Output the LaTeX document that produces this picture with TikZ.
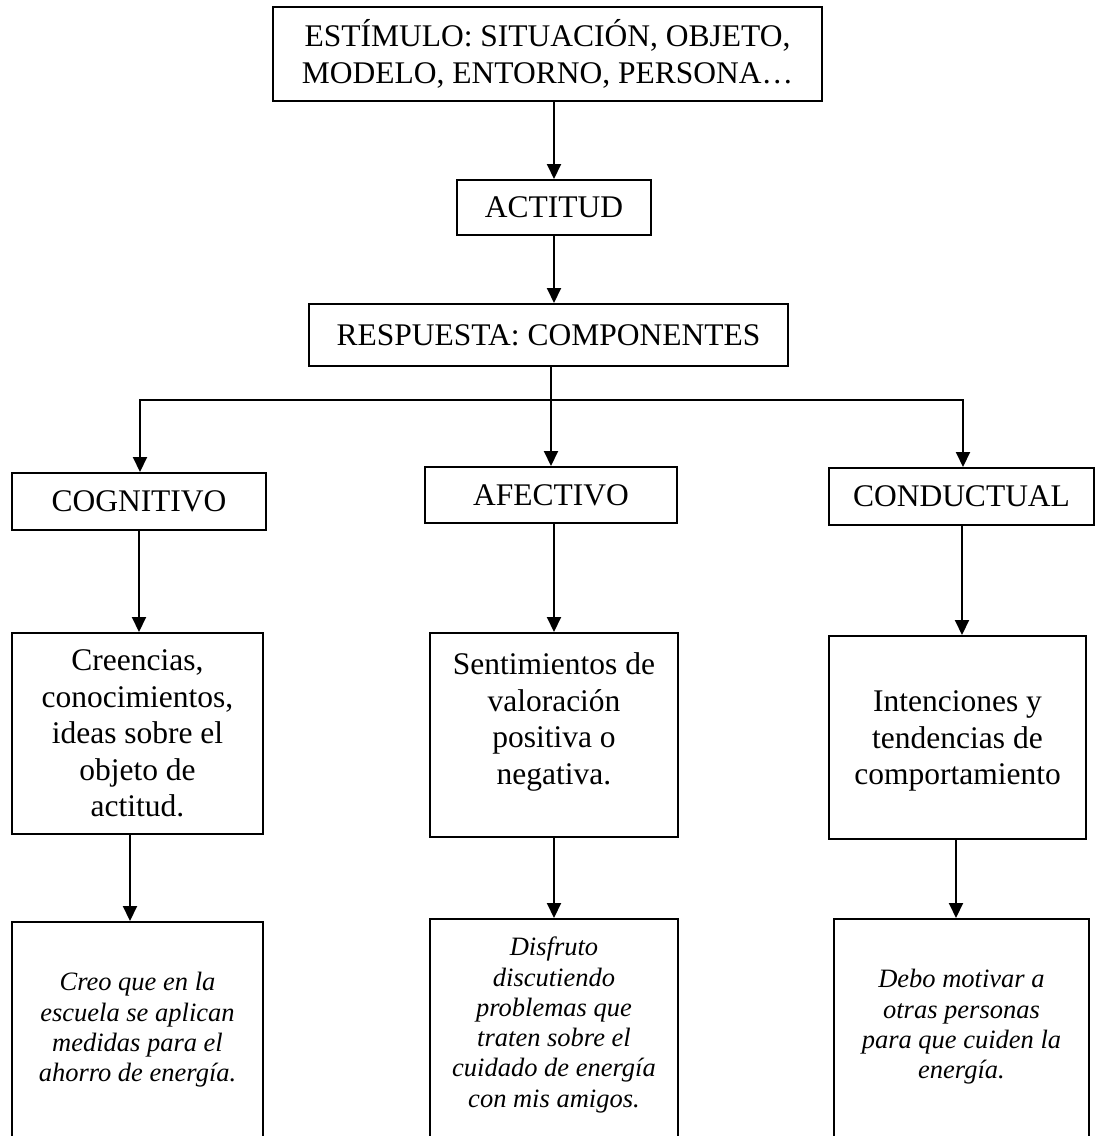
\documentclass[tikz,border=0pt]{standalone}
\usepackage{fontspec}
\setmainfont{Liberation Serif}
\usetikzlibrary{arrows.meta}
\newcommand{\bigtxt}{\fontsize{31.5}{36.5}\selectfont}
\newcommand{\smalltxt}{\fontsize{26.5}{30.3}\selectfont\itshape}

\begin{document}
\begin{tikzpicture}[x=1pt,y=-1pt,
  box/.style={draw, line width=2pt, inner sep=0pt, align=center, font=\bigtxt},
  plain/.style={inner sep=0pt, align=center, font=\bigtxt},
  note/.style={inner sep=0pt, align=center, font=\smalltxt},
  arr/.style={line width=2pt, -{Triangle[length=15pt,width=14pt]}},
  link/.style={line width=2pt}]
\useasboundingbox (0,0) rectangle (1095,1136);
\clip (0,0) rectangle (1095,1136);

% stimulus, attitude and response
\node[box, minimum width=549pt, minimum height=94pt] (estimulo) at (547.5,54)
  {ESTÍMULO: SITUACIÓN, OBJETO,\\MODELO, ENTORNO, PERSONA…};
\node[box, minimum width=194pt, minimum height=55pt] (actitud) at (554,207.5) {ACTITUD};
\node[box, minimum width=479pt, minimum height=62pt] (respuesta) at (548.5,335) {RESPUESTA: COMPONENTES};

% the three components
\node[box, minimum width=254pt, minimum height=57pt] (cog) at (139,501.5) {COGNITIVO};
\node[box, minimum width=252pt, minimum height=56pt] (afe) at (551,495) {AFECTIVO};
\node[box, minimum width=265pt, minimum height=57pt] (con) at (961.5,496.5) {CONDUCTUAL};

% descriptions
\node[box, minimum width=251pt, minimum height=201pt] (cogdesc) at (137.5,733.5)
  {Creencias,\\conocimientos,\\ideas sobre el\\objeto de\\actitud.};
\node[box, minimum width=248pt, minimum height=204pt] (afedesc) at (554,735) {};
\node[plain] (afetext) at (554,722)
  {Sentimientos de\\valoración\\positiva o\\negativa.};
\node[box, minimum width=257pt, minimum height=203pt] (condesc) at (957.5,737.5) {};
\node[plain] (context) at (957.5,741)
  {Intenciones y\\tendencias de\\comportamiento};

% examples (boxes run past the lower edge)
\node[box, minimum width=251pt, minimum height=228pt] (cogex) at (137.5,1036) {};
\node[box, minimum width=248pt, minimum height=231pt] (afeex) at (554,1034.5) {};
\node[box, minimum width=255pt, minimum height=231pt] (conex) at (961.5,1034.5) {};
\node[note] (cogextext) at (137.5,1030)
  {Creo que en la\\escuela se aplican\\medidas para el\\ahorro de energía.};
\node[note] (afeextext) at (554,1025)
  {Disfruto\\discutiendo\\problemas que\\traten sobre el\\cuidado de energía\\con mis amigos.};
\node[note] (conextext) at (961.5,1027)
  {Debo motivar a\\otras personas\\para que cuiden la\\energía.};

% connectors
\draw[arr] (actitud.north |- estimulo.south) -- (actitud.north);
\draw[arr] (actitud.south) -- (actitud.south |- respuesta.north);

\coordinate (hub) at (551,400);
\coordinate (hl) at (140,400);
\coordinate (hr) at (963,400);
\draw[link] (hub |- respuesta.south) -- (hub);
\draw[arr] (hub) -- (hl) -- (hl |- cog.north);
\draw[arr] (hub) -- (hr) -- (hr |- con.north);
\draw[arr] (hub) -- (hub |- afe.north);

\draw[arr] (cog.south) -- (cog.south |- cogdesc.north);
\draw[arr] (afedesc.north |- afe.south) -- (afedesc.north);
\draw[arr] ([xshift=0.5pt]con.south) -- ([xshift=0.5pt]con.south |- condesc.north);

\draw[arr] ([xshift=-7.5pt]cogdesc.south) -- ([xshift=-7.5pt]cogdesc.south |- cogex.north);
\draw[arr] (afedesc.south) -- (afedesc.south |- afeex.north);
\draw[arr] ([xshift=-1.5pt]condesc.south) -- ([xshift=-1.5pt]condesc.south |- conex.north);
\end{tikzpicture}
\end{document}
